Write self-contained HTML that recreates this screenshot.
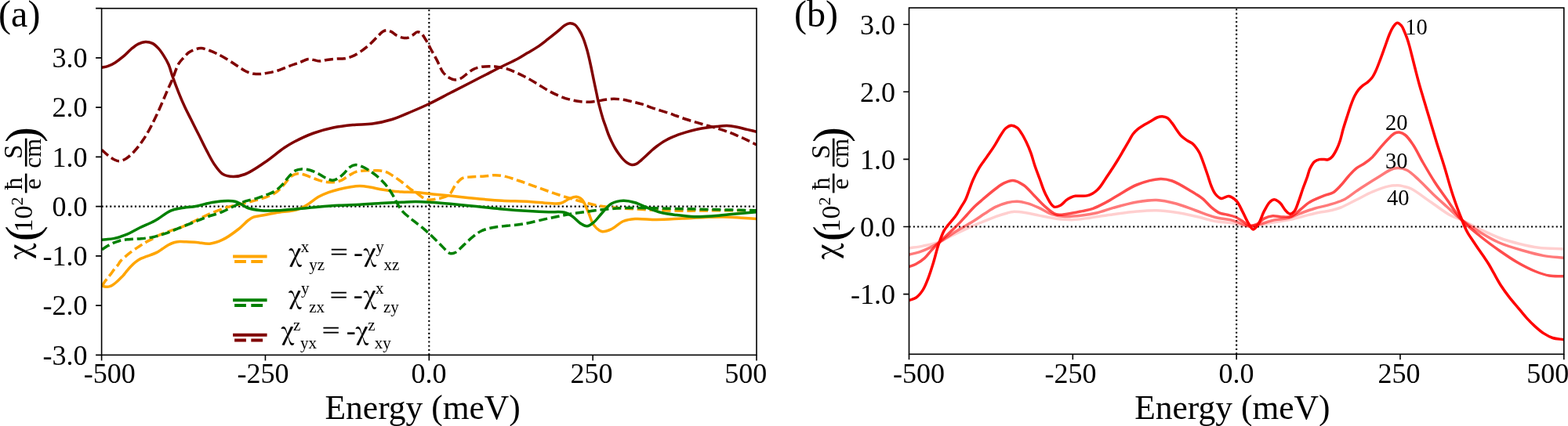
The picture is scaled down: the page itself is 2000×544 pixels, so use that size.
<!DOCTYPE html>
<html><head><meta charset="utf-8"><title>chi plot</title><style>html,body{margin:0;padding:0;background:#fff;overflow:hidden}</style></head><body>
<svg width="2000" height="544" viewBox="0 0 2000 544" style="display:block">
<rect x="0" y="0" width="2000" height="544" fill="#fff"/>
<g style="font-family:'Liberation Serif',serif" fill="#000">
<defs><clipPath id="ca"><rect x="129.6" y="10.7" width="835.4" height="442.65000000000003"/></clipPath><clipPath id="cb"><rect x="1159.5" y="10" width="835.3" height="442.3"/></clipPath></defs>
<g stroke="#000" stroke-width="2.1" stroke-dasharray="2.1 3.19" fill="none">
<line x1="129.6" y1="263.6" x2="965.0" y2="263.6"/>
<line x1="547.3" y1="453.35" x2="547.3" y2="10.7"/>
</g>
<g clip-path="url(#ca)" fill="none" stroke-linejoin="round">
<path d="M130.00,365.00 C131.13,365.33 132.26,365.78 133.40,366.00 C134.52,366.21 135.67,366.36 136.80,366.30 C137.94,366.23 139.09,365.98 140.20,365.60 C141.36,365.20 142.49,364.56 143.60,363.90 C144.76,363.21 145.89,362.38 147.00,361.50 C148.16,360.58 149.27,359.55 150.40,358.50 C151.57,357.42 152.75,356.25 153.90,355.10 C155.05,353.95 156.20,352.86 157.30,351.60 C158.47,350.27 159.40,348.87 160.70,347.30 C162.34,345.32 164.38,342.81 166.40,340.70 C168.44,338.57 170.66,336.36 172.90,334.60 C174.97,332.97 177.11,331.53 179.30,330.40 C181.38,329.33 183.55,328.70 185.70,327.90 C187.85,327.10 189.95,326.46 192.20,325.60 C194.69,324.65 197.52,323.70 200.00,322.40 C202.49,321.10 204.72,319.35 207.10,317.80 C209.52,316.22 211.90,314.37 214.40,313.00 C216.81,311.68 219.29,310.43 221.80,309.70 C224.19,309.00 226.57,308.76 229.10,308.60 C231.79,308.43 234.39,308.68 237.50,308.80 C241.41,308.95 246.04,309.13 250.70,309.50 C255.97,309.91 262.00,311.79 267.50,311.25 C273.03,310.70 278.29,308.82 283.80,306.20 C290.32,303.11 297.88,297.52 303.70,293.00 C308.74,289.09 313.23,283.79 317.00,281.00 C319.45,279.19 320.92,278.07 323.50,277.10 C326.70,275.89 330.75,275.80 335.00,275.00 C340.31,274.00 346.34,272.64 352.90,271.50 C360.86,270.12 372.22,269.76 379.40,267.50 C384.75,265.82 388.37,263.48 392.70,260.90 C397.21,258.21 401.37,254.18 405.90,251.60 C410.19,249.16 414.64,247.36 419.10,245.70 C423.47,244.07 427.95,242.82 432.40,241.70 C436.78,240.59 441.18,239.70 445.60,239.00 C449.98,238.30 454.39,237.50 458.80,237.50 C463.22,237.50 467.69,238.30 472.10,239.00 C476.52,239.70 480.89,240.92 485.30,241.70 C489.69,242.48 494.03,243.15 498.50,243.70 C503.09,244.26 507.57,244.70 512.50,245.00 C518.00,245.33 523.84,245.08 530.00,245.50 C536.95,245.98 544.74,247.13 552.10,247.90 C559.44,248.67 566.76,249.35 574.10,250.10 C581.46,250.85 588.84,251.65 596.20,252.40 C603.54,253.15 610.85,253.95 618.20,254.60 C625.55,255.25 632.10,255.84 640.30,256.30 C650.56,256.87 664.39,256.89 675.00,257.50 C684.02,258.02 692.72,259.21 700.00,259.50 C705.63,259.72 710.61,260.54 715.00,259.50 C718.79,258.61 721.61,255.89 725.00,254.50 C728.28,253.15 731.95,251.02 735.00,251.25 C737.72,251.45 740.30,252.80 742.50,255.00 C745.61,258.11 747.57,264.77 750.00,270.00 C752.58,275.57 754.14,283.09 757.50,287.50 C760.26,291.12 763.75,294.66 767.50,295.50 C771.25,296.34 775.81,294.33 780.00,292.50 C784.96,290.33 789.78,284.66 795.00,282.50 C799.81,280.51 804.22,279.97 810.00,279.50 C817.76,278.87 827.94,280.55 837.50,280.50 C847.93,280.45 859.53,279.51 870.20,279.00 C880.44,278.51 890.98,277.84 900.30,277.50 C908.37,277.21 915.37,276.88 922.90,277.00 C930.44,277.12 938.25,277.77 945.50,278.20 C952.24,278.60 958.50,279.07 965.00,279.50" stroke="#ffa500" stroke-width="3.5" stroke-linecap="square"/>
<path d="M130.00,365.50 C131.37,363.37 132.76,361.01 134.10,359.10 C135.25,357.47 136.31,356.21 137.50,354.70 C138.80,353.06 140.26,351.38 141.60,349.60 C143.00,347.75 144.24,345.66 145.70,343.80 C147.17,341.93 149.07,340.15 150.40,338.40 C151.54,336.90 151.87,335.67 153.30,334.00 C155.75,331.14 160.65,326.83 164.70,323.60 C168.81,320.32 173.77,317.16 177.80,314.50 C181.16,312.28 184.14,310.31 187.20,308.60 C189.96,307.06 192.62,306.01 195.30,304.60 C198.02,303.18 200.73,301.37 203.40,300.10 C205.86,298.93 208.29,298.13 210.70,297.20 C213.05,296.30 214.99,295.54 217.70,294.60 C221.40,293.31 226.12,292.19 230.90,290.30 C236.90,287.92 244.09,284.08 250.70,281.00 C257.32,277.91 263.91,274.57 270.60,271.80 C277.18,269.08 283.81,266.50 290.50,264.50 C297.05,262.55 304.04,261.46 310.30,259.90 C315.98,258.49 321.39,257.05 326.50,255.60 C331.14,254.28 335.37,253.32 339.70,251.60 C344.18,249.82 349.07,247.76 352.90,245.00 C356.51,242.40 359.15,238.95 362.20,235.70 C365.36,232.33 368.24,227.44 371.50,225.10 C374.04,223.28 376.84,222.17 379.40,221.80 C381.66,221.47 383.65,221.97 386.00,222.50 C388.87,223.15 392.10,224.63 395.30,225.80 C398.72,227.05 402.33,228.69 405.90,229.80 C409.40,230.89 412.94,231.97 416.50,232.40 C420.01,232.82 423.72,232.87 427.10,232.40 C430.31,231.96 433.32,231.14 436.30,229.80 C439.50,228.35 442.45,225.59 445.60,223.80 C448.65,222.07 451.73,220.18 454.90,219.20 C457.90,218.27 460.92,218.12 464.10,217.90 C467.50,217.66 471.17,217.90 474.70,217.90 C478.23,217.90 482.04,217.50 485.30,217.90 C488.18,218.25 490.82,218.90 493.30,219.90 C495.70,220.87 497.46,222.14 500.00,223.75 C503.57,226.02 508.38,229.42 512.50,232.50 C516.72,235.66 521.70,240.28 525.00,242.50 C526.98,243.83 528.14,244.09 530.00,245.30 C532.57,246.97 535.86,250.20 538.80,251.90 C541.36,253.38 543.71,254.78 546.50,255.20 C549.56,255.66 553.11,254.69 556.50,254.10 C560.10,253.48 564.38,252.78 567.50,251.50 C570.08,250.45 572.12,249.49 574.10,247.50 C576.66,244.93 578.10,239.83 580.70,236.50 C583.27,233.20 586.15,229.35 589.60,227.60 C592.84,225.96 596.49,226.32 600.60,225.90 C605.77,225.37 612.75,225.41 618.20,225.00 C622.95,224.65 627.08,223.63 631.50,223.70 C635.91,223.77 640.03,224.37 644.70,225.40 C650.22,226.62 656.01,228.84 662.40,231.00 C670.06,233.58 679.14,237.04 687.50,240.00 C695.84,242.95 704.14,246.03 712.50,248.75 C720.80,251.45 729.14,253.95 737.50,256.25 C745.81,258.53 754.12,260.96 762.50,262.50 C770.79,264.03 779.16,264.75 787.50,265.50 C795.82,266.25 804.17,266.50 812.50,267.00 C820.83,267.50 828.62,268.14 837.50,268.50 C847.62,268.91 859.38,269.14 870.00,269.20 C880.20,269.26 888.09,268.98 900.00,268.90 C917.53,268.79 943.33,268.77 965.00,268.70" stroke="#ffa500" stroke-width="3.5" stroke-dasharray="11.1 4.8" stroke-linecap="butt"/>
<path d="M130.00,306.20 C132.50,306.00 135.01,305.87 137.50,305.60 C139.98,305.33 142.67,304.99 144.90,304.60 C146.76,304.27 148.16,304.02 150.00,303.50 C152.26,302.86 154.95,301.82 157.40,300.90 C159.85,299.98 161.95,299.27 164.70,298.00 C168.49,296.25 173.02,293.43 177.90,291.00 C183.82,288.05 191.28,285.27 197.80,281.70 C204.55,278.00 211.55,271.74 217.70,269.10 C222.38,267.10 226.03,266.73 230.90,265.80 C236.80,264.68 244.12,264.41 250.70,263.20 C257.36,261.98 263.93,259.62 270.60,258.50 C277.20,257.39 285.13,256.57 290.50,256.50 C294.15,256.46 296.78,256.46 299.70,257.20 C302.58,257.94 305.22,259.53 307.90,260.90 C310.62,262.29 312.60,264.28 315.90,265.50 C320.44,267.19 327.14,268.23 333.10,268.80 C339.44,269.40 345.83,269.07 352.90,268.80 C361.10,268.49 370.57,267.57 379.40,266.80 C388.24,266.03 397.06,264.97 405.90,264.20 C414.73,263.43 423.57,262.70 432.40,262.20 C441.20,261.70 449.99,261.63 458.80,261.20 C467.63,260.77 476.41,260.09 485.30,259.60 C494.31,259.10 504.43,258.65 512.50,258.25 C518.97,257.93 523.83,257.40 530.00,257.40 C536.94,257.40 544.75,258.02 552.10,258.50 C559.45,258.98 566.76,259.63 574.10,260.30 C581.46,260.97 588.84,261.77 596.20,262.50 C603.54,263.23 610.86,263.97 618.20,264.70 C625.56,265.43 632.10,266.18 640.30,266.90 C650.56,267.80 664.38,268.84 675.00,269.50 C684.01,270.06 692.13,270.45 700.00,270.75 C707.04,271.01 714.60,269.90 720.00,271.25 C724.04,272.26 726.80,274.10 730.00,276.25 C733.49,278.59 736.61,282.86 740.00,285.00 C742.87,286.81 745.87,288.91 748.75,288.75 C751.71,288.58 754.67,286.05 757.50,283.75 C760.96,280.94 763.92,276.30 767.50,272.50 C771.38,268.39 775.22,262.70 780.00,260.00 C784.47,257.47 789.98,256.45 795.00,256.25 C799.98,256.05 805.08,257.34 810.00,258.75 C815.09,260.21 819.78,262.98 825.00,265.00 C830.58,267.16 836.39,269.68 842.50,271.25 C848.90,272.89 855.69,273.61 862.60,274.50 C869.90,275.44 877.66,276.45 885.20,276.70 C892.73,276.95 900.27,276.50 907.80,276.00 C915.37,275.50 922.14,274.49 930.50,273.70 C940.80,272.73 953.50,271.70 965.00,270.70" stroke="#008000" stroke-width="3.5" stroke-linecap="square"/>
<path d="M130.00,318.75 C132.57,317.10 135.14,315.26 137.70,313.80 C140.10,312.43 142.50,311.23 144.90,310.20 C147.20,309.21 149.53,308.36 151.80,307.70 C153.93,307.08 156.00,306.63 158.10,306.30 C160.16,305.97 162.12,305.88 164.30,305.70 C166.73,305.50 169.40,305.35 172.00,305.20 C174.67,305.05 177.46,305.03 180.10,304.80 C182.63,304.58 185.00,304.24 187.50,303.90 C190.07,303.55 192.72,303.25 195.30,302.70 C197.89,302.15 200.40,301.34 203.00,300.60 C205.67,299.84 208.10,299.24 211.10,298.20 C214.99,296.84 219.45,294.84 224.30,292.90 C230.23,290.53 237.49,287.63 244.10,285.00 C250.72,282.36 257.34,279.55 264.00,277.10 C270.58,274.68 277.42,273.03 283.80,270.40 C290.08,267.81 296.63,263.91 302.00,261.50 C306.15,259.64 309.26,258.19 313.20,256.90 C317.40,255.53 322.10,254.91 326.50,253.60 C330.94,252.28 335.57,250.63 339.70,249.00 C343.46,247.51 347.02,246.36 350.30,244.30 C353.67,242.19 356.64,239.42 359.60,236.40 C362.83,233.10 365.71,228.34 368.80,225.10 C371.45,222.31 373.94,219.43 376.80,217.90 C379.29,216.57 381.86,216.08 384.70,215.90 C387.96,215.69 391.83,216.26 395.30,217.20 C398.91,218.18 402.53,220.11 405.90,221.80 C409.15,223.42 412.04,225.68 415.20,227.10 C418.21,228.45 421.59,230.23 424.40,230.20 C426.79,230.17 428.80,229.06 431.00,227.80 C433.67,226.27 436.54,223.55 439.00,221.20 C441.40,218.91 443.08,215.68 445.60,213.90 C447.95,212.24 450.73,210.77 453.50,210.60 C456.44,210.42 459.78,211.94 462.80,213.20 C465.98,214.53 468.97,216.44 472.10,218.50 C475.59,220.80 479.51,223.73 482.70,226.50 C485.62,229.04 488.07,231.47 490.60,234.40 C493.35,237.58 495.62,240.67 498.50,245.00 C502.66,251.25 507.46,262.58 512.50,268.75 C516.44,273.57 521.73,277.26 525.00,280.00 C527.01,281.68 528.01,282.33 530.00,283.90 C532.96,286.24 537.37,289.62 541.00,292.70 C544.74,295.87 548.45,299.24 552.10,302.70 C555.82,306.23 559.39,310.18 563.10,313.70 C566.72,317.14 570.67,322.60 574.10,323.60 C576.41,324.27 578.39,323.61 580.70,322.50 C584.15,320.85 588.11,315.90 591.80,312.60 C595.48,309.30 599.04,305.69 602.80,302.70 C606.38,299.85 609.63,296.99 613.80,295.00 C618.37,292.81 623.92,291.61 629.30,290.50 C634.96,289.33 640.93,289.01 647.00,288.30 C653.41,287.55 659.39,287.33 666.80,286.10 C676.48,284.50 689.71,280.92 700.00,278.75 C708.91,276.87 716.65,275.21 725.00,273.75 C733.32,272.30 741.66,271.13 750.00,270.00 C758.33,268.88 766.66,267.75 775.00,267.00 C783.32,266.25 791.66,265.71 800.00,265.50 C808.33,265.29 816.67,265.63 825.00,265.75 C833.33,265.87 840.24,265.99 850.00,266.20 C863.81,266.49 882.24,267.01 900.00,267.40 C920.25,267.85 943.33,268.27 965.00,268.70" stroke="#008000" stroke-width="3.5" stroke-dasharray="11.1 4.8" stroke-linecap="butt"/>
<path d="M129.60,86.30 C132.37,85.67 135.14,85.39 137.90,84.40 C140.90,83.32 143.88,81.76 146.90,79.90 C150.31,77.80 153.84,75.02 157.20,72.20 C160.72,69.24 164.09,65.30 167.50,62.50 C170.52,60.03 173.37,57.61 176.50,56.10 C179.39,54.71 182.49,53.61 185.50,53.50 C188.49,53.39 191.77,54.06 194.50,55.40 C197.36,56.80 199.88,59.40 202.20,61.90 C204.64,64.53 206.64,67.64 208.70,70.90 C210.96,74.46 213.26,78.28 215.10,82.50 C217.12,87.14 218.18,92.27 220.10,97.70 C222.35,104.07 225.24,111.69 227.90,118.30 C230.41,124.53 232.95,130.56 235.60,136.30 C238.09,141.70 240.54,146.28 243.30,151.80 C246.48,158.16 250.17,165.46 253.60,172.30 C257.04,179.16 260.38,186.30 263.90,192.90 C267.25,199.18 270.47,205.82 274.20,211.00 C277.41,215.46 280.43,220.10 284.50,222.50 C288.28,224.74 293.00,225.43 297.50,225.50 C302.31,225.57 307.06,224.60 312.50,222.50 C320.00,219.60 329.31,213.01 337.50,207.50 C345.98,201.80 355.49,193.46 362.50,188.75 C367.29,185.53 370.03,183.85 375.00,181.25 C381.82,177.69 391.55,173.06 400.00,170.00 C408.22,167.02 416.61,164.75 425.00,163.00 C433.28,161.27 441.65,160.33 450.00,159.50 C458.32,158.67 466.71,159.15 475.00,158.00 C483.38,156.83 491.77,155.03 500.00,152.50 C508.44,149.90 516.92,145.91 525.00,142.50 C532.73,139.24 539.68,136.25 547.50,132.50 C556.27,128.29 566.05,122.90 575.00,118.30 C583.53,113.92 592.13,109.54 600.00,105.50 C607.04,101.88 613.33,98.62 620.00,95.20 C626.66,91.79 633.32,88.32 640.00,85.00 C646.65,81.69 654.12,78.47 660.00,75.30 C664.83,72.69 668.61,70.17 672.90,67.60 C677.18,65.04 681.50,62.73 685.70,59.90 C690.07,56.95 694.32,53.51 698.60,50.20 C702.92,46.85 707.61,43.12 711.50,39.90 C714.79,37.18 717.61,33.93 720.50,32.20 C722.70,30.88 724.74,29.80 726.90,29.70 C729.04,29.61 731.53,30.34 733.40,31.60 C735.46,32.98 736.91,35.52 738.50,38.00 C740.39,40.94 742.11,44.45 743.70,48.30 C745.60,52.88 747.31,58.55 748.80,63.80 C750.31,69.11 751.37,74.06 752.70,80.00 C754.32,87.21 756.19,96.81 757.70,104.00 C758.94,109.87 760.04,115.03 761.10,120.00 C762.02,124.34 762.60,127.69 763.70,132.20 C765.09,137.90 767.33,146.04 769.00,151.40 C770.22,155.33 771.33,158.14 772.50,161.50 C773.66,164.84 774.71,168.23 776.00,171.50 C777.28,174.73 778.72,177.95 780.20,181.00 C781.63,183.94 783.11,186.81 784.70,189.50 C786.22,192.06 787.78,194.45 789.50,196.80 C791.22,199.15 793.07,201.62 795.00,203.60 C796.75,205.40 798.57,207.13 800.50,208.30 C802.25,209.36 804.13,210.33 806.00,210.50 C807.83,210.67 809.92,210.13 811.60,209.40 C813.24,208.68 814.66,207.27 816.00,206.20 C817.20,205.24 818.04,204.43 819.30,203.30 C821.01,201.77 823.30,199.67 825.30,197.80 C827.33,195.90 829.33,193.83 831.40,192.00 C833.40,190.23 835.44,188.58 837.50,187.00 C839.51,185.45 841.55,183.95 843.60,182.60 C845.58,181.29 847.57,180.12 849.60,179.00 C851.61,177.89 853.65,176.86 855.70,175.90 C857.72,174.96 859.71,174.12 861.80,173.30 C863.97,172.45 866.22,171.67 868.50,170.90 C870.85,170.10 872.94,169.39 875.70,168.60 C879.36,167.55 884.28,166.24 888.60,165.30 C892.88,164.37 897.20,163.63 901.50,163.00 C905.77,162.37 910.02,161.90 914.30,161.50 C918.59,161.10 922.91,160.48 927.20,160.60 C931.51,160.72 935.82,161.41 940.10,162.20 C944.42,163.00 948.77,164.38 953.00,165.40 C957.07,166.38 961.00,167.27 965.00,168.20" stroke="#800000" stroke-width="3.5" stroke-linecap="square"/>
<path d="M129.70,191.30 C132.37,193.63 134.93,196.16 137.70,198.30 C140.40,200.39 143.39,202.76 146.10,204.00 C148.29,205.00 150.24,205.82 152.50,205.70 C155.13,205.56 158.10,204.21 160.90,202.50 C164.43,200.35 168.12,196.63 171.50,193.00 C175.22,189.00 178.89,183.97 182.10,179.30 C185.20,174.79 187.79,170.39 190.50,165.50 C193.44,160.21 196.23,154.43 199.00,148.60 C201.90,142.48 204.90,135.55 207.50,129.60 C209.78,124.37 211.76,119.42 213.80,114.80 C215.62,110.69 217.16,107.71 219.10,103.20 C221.75,97.05 224.84,86.48 228.00,81.20 C230.05,77.77 232.21,75.91 234.40,73.50 C236.49,71.20 238.40,68.73 240.80,67.00 C243.14,65.32 245.92,64.10 248.60,63.20 C251.20,62.32 253.76,61.50 256.60,61.60 C259.90,61.71 263.82,63.32 267.20,64.50 C270.44,65.63 273.17,66.88 276.50,68.50 C280.56,70.47 285.35,73.10 289.70,75.70 C294.15,78.36 298.73,81.63 302.90,84.30 C306.62,86.69 309.85,89.31 313.50,91.00 C316.93,92.59 320.78,93.75 324.10,94.30 C326.92,94.76 329.25,94.68 332.10,94.50 C335.39,94.29 338.99,93.64 342.70,92.90 C346.88,92.06 351.55,91.01 355.90,89.60 C360.35,88.16 364.67,85.95 369.10,84.30 C373.51,82.66 378.23,81.24 382.40,79.70 C386.15,78.31 389.84,75.88 393.00,75.50 C395.42,75.21 397.31,76.00 399.60,76.40 C402.12,76.84 404.75,78.06 407.50,78.10 C410.47,78.15 413.50,76.88 416.80,76.40 C420.51,75.86 424.84,75.38 428.70,75.10 C432.33,74.83 435.84,75.24 439.30,74.70 C442.74,74.17 446.06,73.30 449.40,71.90 C453.06,70.36 456.74,68.00 460.30,65.60 C464.05,63.07 467.87,60.03 471.30,57.00 C474.63,54.06 477.62,50.60 480.60,47.70 C483.30,45.07 485.97,41.75 488.40,40.30 C490.05,39.32 491.41,38.78 493.10,38.75 C495.04,38.72 497.39,39.62 499.40,40.60 C501.57,41.65 503.33,43.77 505.60,45.00 C507.98,46.29 510.90,47.56 513.40,48.10 C515.57,48.57 517.66,48.83 519.70,48.40 C521.84,47.95 523.87,46.51 525.90,45.30 C528.04,44.03 530.17,41.25 532.20,40.90 C533.81,40.62 535.40,41.16 536.90,42.20 C539.11,43.74 541.12,47.64 543.10,50.80 C545.31,54.34 547.18,58.42 549.40,62.50 C551.85,66.99 554.65,71.75 557.20,76.60 C559.85,81.64 561.98,88.23 565.00,92.20 C567.34,95.27 570.03,97.57 572.80,99.20 C575.26,100.65 577.99,101.82 580.60,101.90 C583.19,101.98 585.90,100.94 588.40,99.70 C591.16,98.33 593.66,95.67 596.30,93.75 C598.89,91.87 601.15,89.70 604.10,88.30 C607.32,86.77 611.20,85.81 615.00,85.20 C618.99,84.56 624.14,84.62 627.50,84.70 C629.77,84.75 630.91,84.87 633.20,85.20 C636.72,85.71 642.13,86.59 646.50,87.90 C650.97,89.24 655.34,91.24 659.70,93.20 C664.14,95.20 668.53,97.42 672.90,99.80 C677.37,102.24 681.78,105.05 686.20,107.70 C690.61,110.35 694.94,113.25 699.40,115.70 C703.77,118.11 708.22,120.41 712.70,122.30 C717.05,124.13 721.46,125.68 725.90,126.90 C730.26,128.10 734.67,129.05 739.10,129.60 C743.50,130.15 748.22,130.36 752.40,130.20 C756.14,130.06 759.60,129.42 763.00,128.90 C766.18,128.41 769.01,127.63 772.20,127.20 C775.60,126.74 779.16,126.32 782.80,126.30 C786.65,126.28 790.65,126.59 794.70,127.20 C799.03,127.85 803.84,129.20 808.00,130.20 C811.71,131.10 814.71,131.74 818.50,132.90 C823.11,134.31 828.18,136.46 833.60,138.30 C839.85,140.42 848.50,142.98 853.90,144.80 C857.51,146.02 859.64,146.85 862.90,148.00 C866.79,149.38 871.41,151.10 875.70,152.50 C879.98,153.90 884.30,155.12 888.60,156.40 C892.90,157.68 897.20,158.98 901.50,160.20 C905.77,161.41 910.04,162.42 914.30,163.70 C918.61,164.99 922.93,166.35 927.20,167.90 C931.53,169.47 935.82,171.28 940.10,173.10 C944.42,174.94 948.80,176.89 953.00,178.90 C957.10,180.86 961.00,182.97 965.00,185.00" stroke="#800000" stroke-width="3.5" stroke-dasharray="11.1 4.8" stroke-linecap="butt"/>
</g>
<rect x="129.6" y="10.7" width="835.40" height="442.65" fill="none" stroke="#000" stroke-width="1.6"/>
<path d="M122.10,10.60H129.60 M122.10,73.85H129.60 M122.10,137.10H129.60 M122.10,200.35H129.60 M122.10,263.60H129.60 M122.10,326.85H129.60 M122.10,390.10H129.60 M122.10,453.35H129.60 M129.60,453.35V460.55 M338.45,453.35V460.55 M547.30,453.35V460.55 M756.15,453.35V460.55 M965.00,453.35V460.55" stroke="#000" stroke-width="1.6" fill="none"/>
<text x="111.40" y="86.15" font-size="36" text-anchor="end">3.0</text>
<text x="111.40" y="149.40" font-size="36" text-anchor="end">2.0</text>
<text x="111.40" y="212.65" font-size="36" text-anchor="end">1.0</text>
<text x="111.40" y="275.90" font-size="36" text-anchor="end">0.0</text>
<text x="111.40" y="339.15" font-size="36" text-anchor="end">-1.0</text>
<text x="111.40" y="402.40" font-size="36" text-anchor="end">-2.0</text>
<text x="111.40" y="465.65" font-size="36" text-anchor="end">-3.0</text>
<text x="106.80" y="488.60" font-size="36" >-500</text>
<text x="302.60" y="488.60" font-size="36" >-250</text>
<text x="524.50" y="488.60" font-size="36" >0.0</text>
<text x="727.60" y="488.60" font-size="36" >250</text>
<text x="924.30" y="488.60" font-size="36" >500</text>
<text x="414.50" y="534.50" font-size="43.5" >Energy (meV)</text>
<text x="-1.90" y="33.90" font-size="48" >(a)</text>
<line x1="299.1" y1="327.5" x2="338.6" y2="327.5" stroke="#ffa500" stroke-width="4" stroke-linecap="square"/>
<line x1="299.1" y1="333.9" x2="338.6" y2="333.9" stroke="#ffa500" stroke-width="4" stroke-dasharray="14.8 6.4"/>
<line x1="299.1" y1="383.3" x2="338.6" y2="383.3" stroke="#008000" stroke-width="4" stroke-linecap="square"/>
<line x1="299.1" y1="389.9" x2="338.6" y2="389.9" stroke="#008000" stroke-width="4" stroke-dasharray="14.8 6.4"/>
<line x1="299.1" y1="427.7" x2="338.6" y2="427.7" stroke="#800000" stroke-width="4" stroke-linecap="square"/>
<line x1="299.1" y1="434.5" x2="338.6" y2="434.5" stroke="#800000" stroke-width="4" stroke-dasharray="14.8 6.4"/>
<text transform="translate(368.20,333.90) scale(0.893,1)" font-size="32.2" style="font-family:'Noto Serif CJK SC','Liberation Serif',serif;font-weight:600">χ</text>
<text x="383.80" y="322.00" font-size="21" >x</text>
<text x="394.30" y="345.00" font-size="21" >yz</text>
<text transform="translate(421.00,331.15) scale(1.35,0.93)" font-size="30" stroke="#000" stroke-width="0.4">=</text>
<text x="451.10" y="333.80" font-size="36" >-</text>
<text transform="translate(463.40,333.90) scale(0.893,1)" font-size="32.2" style="font-family:'Noto Serif CJK SC','Liberation Serif',serif;font-weight:600">χ</text>
<text x="479.30" y="322.00" font-size="21" >y</text>
<text x="489.40" y="345.00" font-size="21" >xz</text>
<text transform="translate(367.90,388.00) scale(0.893,1)" font-size="32.2" style="font-family:'Noto Serif CJK SC','Liberation Serif',serif;font-weight:600">χ</text>
<text x="383.90" y="375.40" font-size="21" >y</text>
<text x="394.20" y="399.00" font-size="21" >zx</text>
<text transform="translate(420.70,385.65) scale(1.35,0.93)" font-size="30" stroke="#000" stroke-width="0.4">=</text>
<text x="450.80" y="387.90" font-size="36" >-</text>
<text transform="translate(463.60,388.00) scale(0.893,1)" font-size="32.2" style="font-family:'Noto Serif CJK SC','Liberation Serif',serif;font-weight:600">χ</text>
<text x="479.00" y="375.40" font-size="21" >x</text>
<text x="488.90" y="399.00" font-size="21" >zy</text>
<text transform="translate(358.40,433.90) scale(0.893,1)" font-size="32.2" style="font-family:'Noto Serif CJK SC','Liberation Serif',serif;font-weight:600">χ</text>
<text x="374.10" y="422.00" font-size="21" >z</text>
<text x="383.10" y="445.10" font-size="21" >yx</text>
<text transform="translate(410.70,431.15) scale(1.35,0.93)" font-size="30" stroke="#000" stroke-width="0.4">=</text>
<text x="441.70" y="433.90" font-size="36" >-</text>
<text transform="translate(453.60,433.90) scale(0.893,1)" font-size="32.2" style="font-family:'Noto Serif CJK SC','Liberation Serif',serif;font-weight:600">χ</text>
<text x="469.20" y="422.00" font-size="21" >z</text>
<text x="477.80" y="445.10" font-size="21" >xy</text>
<g transform="translate(0,0) rotate(-90)">
<text transform="translate(-331.30,38.00) scale(0.91,1)" font-size="38.7" style="font-family:'Noto Serif CJK SC','Liberation Serif',serif;font-weight:600">χ</text>
<text x="-308.10" y="47.90" font-size="59" >(</text>
<text x="-296.40" y="41.10" font-size="34" >10</text>
<text x="-262.50" y="29.30" font-size="22" >2</text>
<text x="-242.60" y="27.80" font-size="32" >ħ</text>
<text x="-242.10" y="52.30" font-size="32" >e</text>
<text x="-203.10" y="28.00" font-size="33" >S</text>
<text x="-214.80" y="52.30" font-size="31" >cm</text>
<text x="-182.00" y="48.40" font-size="59.5" >)</text>
</g>
<rect x="31.9" y="221.6" width="2.6" height="24.8" fill="#000"/>
<rect x="31.9" y="176.7" width="2.6" height="35.9" fill="#000"/>
<g stroke="#000" stroke-width="2.1" stroke-dasharray="2.1 3.19" fill="none">
<line x1="1159.5" y1="289.5" x2="1994.8" y2="289.5"/>
<line x1="1577.15" y1="452.3" x2="1577.15" y2="10.0"/>
</g>
<g clip-path="url(#cb)" fill="none" stroke-linejoin="round" stroke-linecap="square" stroke-width="3.5">
<path d="M1159.40,383.60 C1162.33,382.50 1165.47,382.16 1168.20,380.30 C1171.45,378.08 1174.59,374.23 1177.10,370.40 C1179.84,366.23 1181.63,361.24 1183.70,356.00 C1186.07,349.98 1188.17,343.09 1190.30,336.20 C1192.59,328.80 1194.46,320.22 1196.90,313.00 C1199.10,306.48 1201.60,299.31 1204.10,294.70 C1205.79,291.59 1207.47,289.74 1209.30,287.40 C1211.11,285.08 1213.15,283.01 1215.00,280.70 C1216.89,278.35 1218.73,276.02 1220.50,273.40 C1222.41,270.56 1224.17,267.27 1226.00,264.20 C1227.83,261.13 1229.84,258.42 1231.50,255.00 C1233.40,251.07 1234.87,246.08 1236.50,241.80 C1238.04,237.76 1239.16,234.14 1241.00,230.00 C1243.14,225.18 1246.25,219.04 1248.80,214.70 C1250.80,211.29 1252.60,208.93 1254.70,205.90 C1257.00,202.58 1259.67,199.11 1262.10,195.60 C1264.58,192.02 1267.01,188.43 1269.40,184.60 C1271.91,180.58 1274.40,175.67 1276.80,172.00 C1278.78,168.98 1280.27,165.98 1282.60,164.00 C1284.73,162.19 1287.51,160.41 1290.00,160.30 C1292.44,160.19 1295.26,161.61 1297.40,163.20 C1299.72,164.93 1301.37,167.80 1303.20,170.60 C1305.31,173.83 1307.22,177.67 1309.10,181.60 C1311.17,185.94 1313.22,190.72 1315.00,195.60 C1316.88,200.76 1318.18,206.43 1320.00,211.80 C1321.84,217.23 1323.88,222.35 1326.00,228.00 C1328.33,234.20 1330.28,241.42 1333.40,247.50 C1336.45,253.44 1340.39,262.50 1344.40,264.10 C1347.02,265.15 1350.17,263.50 1352.70,262.20 C1355.41,260.80 1357.62,257.46 1360.00,255.70 C1362.00,254.22 1363.87,253.01 1365.90,252.10 C1367.81,251.24 1369.70,250.61 1371.80,250.30 C1374.08,249.96 1376.66,250.37 1379.10,250.30 C1381.56,250.23 1384.09,250.44 1386.50,249.90 C1388.99,249.34 1391.57,248.16 1393.80,246.90 C1395.95,245.68 1397.95,244.13 1399.70,242.50 C1401.37,240.95 1402.59,239.39 1404.10,237.40 C1406.00,234.89 1407.84,231.76 1410.00,228.50 C1412.64,224.53 1416.02,219.60 1418.80,215.30 C1421.40,211.28 1423.77,207.51 1426.20,203.50 C1428.67,199.41 1431.14,195.05 1433.50,191.00 C1435.73,187.17 1437.96,183.28 1440.00,179.80 C1441.80,176.74 1443.11,173.76 1445.10,171.20 C1447.00,168.75 1449.24,166.63 1451.60,164.70 C1453.97,162.76 1456.60,161.25 1459.30,159.60 C1462.15,157.85 1465.42,156.16 1468.30,154.50 C1470.97,152.96 1473.46,150.96 1476.00,150.00 C1478.19,149.17 1480.35,148.60 1482.50,148.70 C1484.65,148.80 1486.93,149.35 1488.90,150.60 C1491.26,152.09 1493.25,155.08 1495.30,157.70 C1497.56,160.59 1499.72,164.44 1501.80,167.30 C1503.56,169.71 1504.97,171.87 1506.90,173.80 C1508.83,175.73 1511.08,177.33 1513.40,178.90 C1515.81,180.54 1518.92,181.60 1521.10,183.40 C1523.13,185.07 1524.69,187.15 1526.20,189.20 C1527.69,191.22 1528.67,192.64 1530.10,195.60 C1532.90,201.39 1537.31,214.82 1540.00,222.50 C1542.00,228.21 1543.16,233.06 1545.00,237.50 C1546.55,241.23 1547.80,244.78 1550.00,247.50 C1552.04,250.02 1554.66,252.95 1557.50,253.50 C1560.46,254.07 1564.28,250.03 1567.50,250.50 C1570.93,251.00 1574.63,254.04 1577.40,257.00 C1580.50,260.31 1582.31,265.43 1584.70,269.90 C1587.22,274.61 1589.52,280.50 1592.10,284.60 C1594.16,287.87 1596.29,292.77 1598.50,292.90 C1600.56,293.02 1602.93,289.29 1604.90,286.40 C1607.68,282.33 1609.66,274.88 1612.30,269.90 C1614.63,265.50 1617.07,260.43 1619.70,257.90 C1621.46,256.21 1623.24,254.80 1625.20,254.80 C1627.46,254.80 1630.25,256.91 1632.50,258.90 C1635.25,261.33 1637.43,266.48 1639.90,269.00 C1641.73,270.87 1643.53,273.10 1645.40,273.20 C1647.20,273.30 1649.31,271.73 1650.90,269.90 C1653.26,267.19 1654.64,261.60 1656.40,257.00 C1658.36,251.87 1660.10,245.84 1662.00,240.50 C1663.81,235.42 1665.94,230.20 1667.50,225.70 C1668.79,221.97 1669.25,218.63 1670.80,215.40 C1672.35,212.16 1674.46,208.28 1676.80,206.30 C1678.63,204.75 1680.82,204.04 1682.90,203.60 C1684.89,203.18 1687.07,203.56 1689.00,203.60 C1690.75,203.63 1692.40,204.27 1694.00,203.80 C1695.79,203.27 1697.49,201.93 1699.10,200.20 C1701.31,197.83 1703.50,193.54 1705.20,190.10 C1706.84,186.80 1707.96,183.76 1709.20,180.00 C1710.70,175.44 1711.84,169.66 1713.30,164.60 C1714.74,159.63 1716.28,154.94 1717.90,149.90 C1719.63,144.53 1721.55,138.23 1723.40,133.30 C1724.92,129.23 1726.33,125.55 1728.00,122.30 C1729.43,119.53 1730.86,117.10 1732.60,114.90 C1734.25,112.83 1736.12,111.08 1738.10,109.40 C1740.09,107.71 1742.51,106.49 1744.50,104.80 C1746.48,103.12 1748.38,101.45 1750.00,99.30 C1751.79,96.92 1753.07,94.23 1754.60,91.00 C1756.60,86.77 1758.64,81.04 1760.60,75.90 C1762.61,70.61 1764.53,65.10 1766.50,59.70 C1768.47,54.30 1770.45,48.04 1772.40,43.50 C1773.87,40.07 1775.05,37.18 1776.80,34.70 C1778.34,32.51 1780.23,29.40 1782.10,29.20 C1783.84,29.01 1786.11,31.21 1787.60,32.90 C1789.26,34.77 1790.13,37.60 1791.30,40.20 C1792.58,43.06 1793.83,46.31 1794.90,49.40 C1795.96,52.45 1796.80,55.39 1797.70,58.60 C1798.67,62.07 1799.47,65.44 1800.50,69.50 C1801.81,74.64 1803.37,81.03 1804.90,87.00 C1806.50,93.25 1808.15,99.87 1809.90,106.20 C1811.62,112.44 1813.58,118.89 1815.30,124.70 C1816.83,129.88 1818.23,134.50 1819.70,139.40 C1821.17,144.30 1822.63,149.20 1824.10,154.10 C1825.57,159.00 1826.97,163.71 1828.50,168.80 C1830.16,174.31 1831.90,180.25 1833.70,186.00 C1835.53,191.82 1837.62,197.88 1839.40,203.50 C1841.04,208.69 1842.45,213.29 1844.00,218.50 C1845.68,224.15 1847.36,230.44 1849.10,236.20 C1850.77,241.73 1852.46,247.20 1854.20,252.40 C1855.83,257.28 1857.49,261.89 1859.20,266.50 C1860.86,270.98 1862.69,275.60 1864.30,279.70 C1865.71,283.29 1866.88,286.65 1868.30,289.80 C1869.60,292.68 1870.81,295.17 1872.40,297.90 C1874.14,300.89 1876.24,303.75 1878.40,307.00 C1880.89,310.75 1883.87,315.26 1886.50,319.10 C1888.92,322.63 1891.42,325.98 1893.60,329.20 C1895.55,332.08 1897.18,334.49 1899.00,337.50 C1901.07,340.92 1903.01,344.67 1905.30,348.70 C1908.00,353.45 1910.94,359.12 1914.20,364.20 C1917.56,369.43 1921.44,374.73 1925.20,379.60 C1928.78,384.24 1932.52,388.39 1936.20,392.80 C1939.89,397.23 1943.51,401.96 1947.30,406.10 C1950.89,410.03 1954.54,413.73 1958.30,417.10 C1961.88,420.30 1965.49,423.45 1969.30,425.90 C1972.88,428.20 1976.35,430.20 1980.40,431.50 C1984.76,432.90 1989.93,432.97 1994.70,433.70" stroke="#ff0000" stroke-opacity="1.0"/>
<path d="M1159.40,340.60 C1162.33,339.50 1165.20,338.87 1168.20,337.30 C1171.80,335.41 1175.97,332.56 1179.30,329.60 C1182.60,326.66 1185.07,322.86 1188.10,319.60 C1191.14,316.33 1193.84,313.58 1197.50,310.00 C1202.39,305.21 1210.13,298.32 1215.00,293.60 C1218.59,290.13 1221.17,287.57 1224.20,284.40 C1227.31,281.15 1230.33,277.67 1233.40,274.30 C1236.47,270.93 1239.30,267.45 1242.60,264.20 C1246.02,260.84 1249.54,257.96 1253.60,254.50 C1258.49,250.33 1264.99,244.71 1270.00,241.00 C1273.95,238.08 1277.19,235.48 1281.00,233.70 C1284.57,232.03 1288.25,230.15 1292.10,230.40 C1296.48,230.68 1301.48,233.53 1305.80,236.50 C1310.72,239.88 1315.00,245.70 1319.60,250.30 C1324.20,254.90 1328.62,260.10 1333.40,264.10 C1337.84,267.81 1342.35,272.28 1347.20,273.70 C1351.60,274.99 1356.04,273.75 1361.00,273.20 C1366.92,272.54 1374.42,270.85 1380.30,269.60 C1385.30,268.54 1389.58,267.87 1394.10,266.30 C1398.78,264.67 1403.11,262.39 1407.90,259.90 C1413.36,257.06 1418.75,253.56 1425.00,250.00 C1432.53,245.71 1441.03,239.56 1450.00,236.00 C1459.32,232.30 1471.69,228.83 1480.00,228.50 C1485.83,228.27 1489.54,229.13 1495.00,231.00 C1502.47,233.56 1514.88,241.53 1520.00,244.50 C1522.33,245.85 1523.06,246.32 1525.00,247.60 C1527.80,249.45 1531.85,251.97 1535.10,254.70 C1538.60,257.64 1541.70,261.86 1545.20,264.80 C1548.45,267.53 1551.77,270.33 1555.30,271.90 C1558.53,273.34 1562.03,273.36 1565.40,274.20 C1568.80,275.05 1572.30,275.60 1575.60,277.00 C1579.08,278.48 1582.52,281.05 1585.70,283.00 C1588.59,284.77 1590.97,287.65 1593.90,288.20 C1596.78,288.74 1600.19,287.74 1603.10,286.40 C1606.36,284.90 1608.91,280.87 1612.30,279.10 C1615.65,277.35 1619.59,276.16 1623.30,275.80 C1626.96,275.45 1630.56,276.80 1634.40,276.90 C1638.51,277.01 1643.28,277.71 1647.20,276.30 C1651.28,274.84 1654.64,270.88 1658.30,268.00 C1662.01,265.08 1665.49,261.40 1669.30,258.90 C1672.84,256.57 1676.72,254.95 1680.30,253.30 C1683.60,251.78 1686.71,250.51 1690.00,249.30 C1693.31,248.08 1696.92,247.85 1700.10,246.00 C1703.71,243.90 1706.95,240.20 1710.20,236.80 C1713.70,233.15 1716.85,228.48 1720.30,224.70 C1723.59,221.10 1726.84,217.37 1730.40,214.60 C1733.64,212.07 1737.29,210.80 1740.60,208.50 C1744.06,206.10 1747.48,203.55 1750.70,200.40 C1754.25,196.92 1757.39,192.21 1760.80,188.30 C1764.13,184.48 1767.63,180.41 1770.90,177.20 C1773.67,174.48 1776.32,171.37 1779.00,170.10 C1781.01,169.15 1782.93,168.83 1785.00,169.10 C1787.41,169.42 1790.05,170.59 1792.50,172.50 C1795.92,175.16 1799.19,180.06 1802.50,185.00 C1806.70,191.26 1810.58,199.84 1815.00,207.50 C1819.71,215.65 1824.86,224.56 1830.00,232.50 C1834.87,240.02 1839.59,246.44 1845.00,254.00 C1851.14,262.58 1857.67,273.21 1865.00,281.25 C1871.91,288.84 1879.66,294.85 1887.50,301.25 C1895.48,307.77 1904.18,314.17 1912.50,320.00 C1920.42,325.55 1928.31,330.97 1936.20,335.50 C1943.57,339.73 1951.23,343.66 1958.30,346.50 C1964.42,348.96 1969.95,350.97 1976.00,352.00 C1982.08,353.04 1988.47,352.47 1994.70,352.70" stroke="#ff0000" stroke-opacity="0.7"/>
<path d="M1159.40,325.20 C1163.80,324.07 1168.24,323.25 1172.60,321.80 C1177.08,320.31 1181.67,318.32 1185.90,316.30 C1189.95,314.37 1193.30,312.55 1197.50,310.00 C1202.81,306.78 1209.47,301.72 1215.00,298.20 C1219.83,295.12 1224.20,292.65 1228.80,289.90 C1233.40,287.15 1238.04,284.57 1242.60,281.70 C1247.24,278.78 1251.78,275.44 1256.40,272.50 C1260.94,269.61 1265.32,266.50 1270.10,264.20 C1274.86,261.91 1280.17,259.86 1285.00,258.70 C1289.31,257.66 1293.32,257.04 1297.60,257.20 C1302.11,257.37 1306.87,258.56 1311.40,259.90 C1316.04,261.27 1320.36,263.27 1325.10,265.40 C1330.42,267.79 1336.03,271.85 1341.70,273.70 C1347.08,275.46 1352.28,276.19 1358.20,276.50 C1365.01,276.86 1373.20,275.93 1380.30,275.10 C1386.97,274.32 1393.13,273.36 1399.60,271.80 C1406.36,270.17 1412.51,267.50 1420.00,265.40 C1429.00,262.88 1440.40,259.66 1450.00,258.00 C1458.66,256.51 1466.69,255.17 1475.00,255.50 C1483.36,255.83 1491.75,257.83 1500.00,260.00 C1508.42,262.22 1516.67,265.83 1525.00,268.75 C1533.33,271.67 1542.05,275.45 1550.00,277.50 C1556.96,279.30 1564.37,279.48 1570.00,280.90 C1574.26,281.97 1577.19,283.28 1581.00,284.60 C1585.14,286.03 1589.56,288.92 1593.90,289.20 C1598.16,289.47 1602.14,287.60 1606.80,286.40 C1612.42,284.95 1619.02,282.27 1625.20,280.90 C1631.28,279.55 1637.89,279.69 1643.60,278.20 C1648.85,276.83 1653.11,274.49 1658.30,272.60 C1664.07,270.50 1670.53,268.04 1676.70,266.20 C1682.79,264.38 1689.00,263.40 1695.10,261.60 C1701.27,259.78 1707.72,258.19 1713.50,255.30 C1719.36,252.38 1725.18,247.33 1730.00,244.10 C1733.74,241.60 1736.08,240.02 1740.00,237.50 C1745.50,233.96 1753.79,228.75 1760.00,225.00 C1765.33,221.78 1770.54,217.94 1775.00,216.25 C1778.20,215.04 1780.66,214.40 1783.75,214.50 C1787.28,214.61 1791.20,215.53 1795.00,217.50 C1799.92,220.05 1804.91,225.36 1810.00,230.00 C1815.73,235.23 1821.60,241.86 1827.50,247.50 C1833.27,253.02 1838.95,258.05 1845.00,263.50 C1851.42,269.29 1857.94,275.80 1865.00,281.25 C1872.10,286.73 1879.70,291.52 1887.50,296.25 C1895.51,301.11 1903.57,306.11 1912.50,310.00 C1921.94,314.11 1932.99,317.16 1942.80,320.00 C1951.88,322.62 1960.51,325.05 1969.30,326.60 C1977.80,328.10 1986.23,328.40 1994.70,329.30" stroke="#ff0000" stroke-opacity="0.52"/>
<path d="M1159.40,317.00 C1165.30,316.03 1171.06,315.33 1177.10,314.10 C1183.54,312.79 1190.57,311.58 1196.90,309.30 C1203.20,307.04 1208.93,303.41 1215.00,300.50 C1221.10,297.58 1227.24,294.56 1233.40,291.80 C1239.51,289.06 1245.66,286.54 1251.80,284.00 C1257.90,281.47 1264.27,278.67 1270.10,276.60 C1275.28,274.76 1280.93,273.09 1285.00,272.00 C1287.78,271.26 1289.22,270.60 1292.10,270.40 C1296.44,270.10 1303.12,271.02 1308.60,271.80 C1314.12,272.58 1319.19,273.96 1325.10,275.10 C1331.93,276.42 1339.81,278.28 1347.20,279.20 C1354.54,280.11 1361.95,280.82 1369.30,280.60 C1376.65,280.38 1383.49,278.95 1391.30,277.90 C1400.24,276.70 1410.32,275.01 1420.00,273.70 C1429.88,272.37 1440.44,270.83 1450.00,270.00 C1458.70,269.25 1466.67,268.54 1475.00,268.75 C1483.34,268.96 1491.70,270.01 1500.00,271.25 C1508.36,272.50 1516.69,274.38 1525.00,276.25 C1533.36,278.13 1542.08,281.10 1550.00,282.50 C1556.99,283.73 1563.50,283.61 1570.00,284.60 C1576.28,285.56 1582.24,287.84 1588.40,288.30 C1594.51,288.76 1600.69,288.16 1606.80,287.40 C1612.96,286.63 1619.05,284.78 1625.20,283.70 C1631.32,282.62 1637.50,282.12 1643.60,280.90 C1649.76,279.66 1655.88,277.84 1662.00,276.30 C1668.11,274.77 1674.17,273.00 1680.30,271.70 C1686.40,270.40 1693.32,269.78 1698.70,268.50 C1703.02,267.47 1705.91,266.70 1710.20,265.00 C1716.08,262.67 1723.66,258.34 1730.40,255.00 C1737.16,251.65 1743.85,247.78 1750.70,244.90 C1757.35,242.11 1764.96,239.18 1770.90,237.90 C1775.38,236.93 1779.52,236.69 1783.00,236.80 C1785.66,236.89 1787.48,237.32 1790.00,237.90 C1793.06,238.61 1796.08,239.11 1800.00,241.00 C1806.65,244.20 1816.67,252.33 1825.00,258.00 C1833.33,263.67 1842.54,270.96 1850.00,275.00 C1855.47,277.96 1859.54,278.75 1865.00,281.25 C1871.79,284.36 1879.76,288.83 1887.50,292.50 C1895.58,296.33 1904.06,300.60 1912.50,303.75 C1920.73,306.82 1929.12,309.16 1937.50,311.25 C1945.78,313.32 1953.60,315.12 1962.50,316.25 C1972.51,317.52 1983.97,317.42 1994.70,318.00" stroke="#ff0000" stroke-opacity="0.19"/>
</g>
<rect x="1159.5" y="10.0" width="835.30" height="442.30" fill="none" stroke="#000" stroke-width="1.6"/>
<path d="M1152.20,31.20H1159.50 M1152.20,117.30H1159.50 M1152.20,203.40H1159.50 M1152.20,289.50H1159.50 M1152.20,375.60H1159.50 M1159.50,452.30V459.30 M1368.33,452.30V459.30 M1577.15,452.30V459.30 M1785.98,452.30V459.30 M1994.80,452.30V459.30" stroke="#000" stroke-width="1.6" fill="none"/>
<text x="1142.10" y="43.50" font-size="36" text-anchor="end">3.0</text>
<text x="1142.10" y="129.60" font-size="36" text-anchor="end">2.0</text>
<text x="1142.10" y="215.70" font-size="36" text-anchor="end">1.0</text>
<text x="1142.10" y="301.80" font-size="36" text-anchor="end">0.0</text>
<text x="1142.10" y="387.90" font-size="36" text-anchor="end">-1.0</text>
<text x="1139.00" y="488.60" font-size="36" >-500</text>
<text x="1332.50" y="488.60" font-size="36" >-250</text>
<text x="1554.60" y="488.60" font-size="36" >0.0</text>
<text x="1757.60" y="488.60" font-size="36" >250</text>
<text x="1947.30" y="488.60" font-size="36" >500</text>
<text x="1447.20" y="534.50" font-size="43.5" >Energy (meV)</text>
<text x="1013.10" y="33.90" font-size="48" >(b)</text>
<text x="1792.20" y="43.90" font-size="28.5" >10</text>
<text x="1767.00" y="165.60" font-size="28.5" >20</text>
<text x="1767.00" y="214.50" font-size="28.5" >30</text>
<text x="1769.00" y="261.50" font-size="28.5" >40</text>
<g transform="translate(1030,0) rotate(-90)">
<text transform="translate(-331.30,38.00) scale(0.91,1)" font-size="38.7" style="font-family:'Noto Serif CJK SC','Liberation Serif',serif;font-weight:600">χ</text>
<text x="-308.10" y="47.90" font-size="59" >(</text>
<text x="-296.40" y="41.10" font-size="34" >10</text>
<text x="-262.50" y="29.30" font-size="22" >2</text>
<text x="-242.60" y="27.80" font-size="32" >ħ</text>
<text x="-242.10" y="52.30" font-size="32" >e</text>
<text x="-203.10" y="28.00" font-size="33" >S</text>
<text x="-214.80" y="52.30" font-size="31" >cm</text>
<text x="-182.00" y="48.40" font-size="59.5" >)</text>
</g>
<rect x="1061.9" y="221.6" width="2.6" height="24.8" fill="#000"/>
<rect x="1061.9" y="176.7" width="2.6" height="35.9" fill="#000"/>
</g></svg>
</body></html>
